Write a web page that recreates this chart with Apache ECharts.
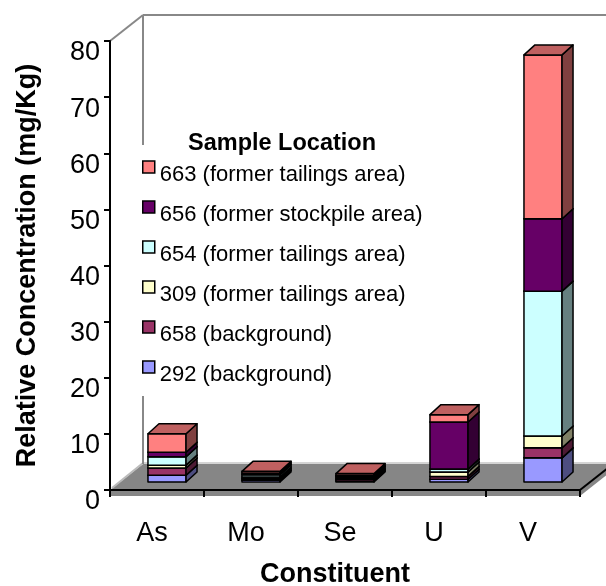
<!DOCTYPE html>
<html>
<head>
<meta charset="utf-8">
<script src="https://cdn.jsdelivr.net/npm/echarts@6/dist/echarts.min.js"></script>
<style>
    html, body { margin: 0; padding: 0; background: #fff; }
    #chart { width: 606px; height: 586px; }
</style>
</head>
<body>
<div id="chart"></div>
<script>
// 数据
var categories = ['As', 'Mo', 'Se', 'U', 'V'];
var s292 = [1.2, 0.3, 0.2, 0.5, 4.3];
var s658 = [1.3, 0.3, 0.3, 0.5, 1.8];
var s309 = [0.5, 0.3, 0.2, 0.8, 2.1];
var s654 = [1.5, 0.4, 0.3, 0.5, 25.8];
var s656 = [0.8, 0.3, 0.2, 8.4, 12.9];
var s663 = [3.3, 0.3, 0.3, 1.3, 29.2];
var yTicks = [0, 10, 20, 30, 40, 50, 60, 70, 80];

// 堆叠顺序（从下到上）
var stackNames = ['292 (background)', '658 (background)', '309 (former tailings area)',
    '654 (former tailings area)', '656 (former stockpile area)', '663 (former tailings area)'];
var stackValues = [s292, s658, s309, s654, s656, s663];
var colors = ['#9999FF', '#993366', '#FFFFCC', '#CCFFFF', '#660066', '#FF8080'];

var font = 'Liberation Sans, Arial, sans-serif';
var depth = [33, -26];      // 墙/地板的纵深
var front = [10, -8];       // 柱子前面相对轴的偏移
var barDepth = [11, -10];   // 柱子自身厚度

function shade(hex, k) {
    var r = parseInt(hex.substr(1, 2), 16), g = parseInt(hex.substr(3, 2), 16), b = parseInt(hex.substr(5, 2), 16);
    return 'rgb(' + Math.round(r * k) + ',' + Math.round(g * k) + ',' + Math.round(b * k) + ')';
}

var myChart = echarts.init(document.getElementById('chart'));

// 地板和墙
function renderFloor(params, api) {
    var band = api.size([1, 0])[0];
    var p0 = api.coord([0, yTicks[0]]);
    var pn = api.coord([categories.length - 1, yTicks[0]]);
    var pt = api.coord([0, yTicks[yTicks.length - 1]]);
    var xl = p0[0] - band / 2, xr = pn[0] + band / 2, yb = p0[1], yt = pt[1];
    var dx = depth[0], dy = depth[1];
    var wall = { stroke: '#888', lineWidth: 2 };
    return {
        type: 'group',
        children: [
            { type: 'polygon', shape: { points: [[xl, yb], [xl + dx, yb + dy], [xr + dx, yb + dy], [xr, yb]] },
              style: { fill: '#868686' } },
            { type: 'rect', shape: { x: xl, y: yb, width: xr - xl, height: 6 }, style: { fill: '#868686' } },
            { type: 'polygon', shape: { points: [[xr, yb], [xr + dx, yb + dy], [xr + dx, yb + dy + 6], [xr, yb + 6]] },
              style: { fill: '#868686' } },
            { type: 'line', shape: { x1: xr, y1: yb, x2: xr + dx, y2: yb + dy }, style: { stroke: '#000', lineWidth: 2 } },
            { type: 'line', shape: { x1: xl + 2, y1: yb - 2, x2: xl + dx, y2: yb + dy - 1 }, style: { stroke: '#bbb', lineWidth: 2 } },
            { type: 'line', shape: { x1: xl + dx, y1: yb + dy - 1, x2: xr + dx, y2: yb + dy - 1 }, style: { stroke: '#aaa', lineWidth: 1 } },
            { type: 'line', shape: { x1: xl, y1: yt, x2: xl + dx, y2: yt + dy }, style: wall },
            { type: 'line', shape: { x1: xl + dx, y1: yt + dy, x2: xl + dx, y2: yb + dy }, style: wall },
            { type: 'line', shape: { x1: xl + dx, y1: yt + dy, x2: xr + dx, y2: yt + dy }, style: wall }
        ]
    };
}

// 三维柱子
function makeRender(color) {
    return function (params, api) {
        var c = api.value(0), lo = api.value(1), hi = api.value(2);
        var band = api.size([1, 0])[0];
        var w = band * 0.405;
        var pl = api.coord([c, lo]), ph = api.coord([c, hi]);
        var x0 = pl[0] - w / 2 + front[0], x1 = x0 + w;
        var y0 = pl[1] + front[1], y1 = ph[1] + front[1];
        var bx = barDepth[0], by = barDepth[1];
        var edge = { stroke: '#000', lineWidth: 1.5, lineJoin: 'round' };
        return {
            type: 'group',
            children: [
                { type: 'polygon', shape: { points: [[x0, y0], [x1, y0], [x1, y1], [x0, y1]] },
                  style: echarts.util.extend({ fill: color }, edge) },
                { type: 'polygon', shape: { points: [[x1, y0], [x1, y1], [x1 + bx, y1 + by], [x1 + bx, y0 + by]] },
                  style: echarts.util.extend({ fill: shade(color, 0.5) }, edge) },
                { type: 'polygon', shape: { points: [[x0, y1], [x1, y1], [x1 + bx, y1 + by], [x0 + bx, y1 + by]] },
                  style: echarts.util.extend({ fill: shade(color, 0.75) }, edge) }
            ]
        };
    };
}

var series = [{
    type: 'custom',
    name: 'floor',
    z: 1,
    silent: true,
    renderItem: renderFloor,
    data: [[0, 0]]
}];

var base = categories.map(function () { return 0; });
for (var i = 0; i < stackValues.length; i++) {
    var d = [];
    for (var j = 0; j < categories.length; j++) {
        d.push([j, base[j], base[j] + stackValues[i][j]]);
        base[j] += stackValues[i][j];
    }
    series.push({
        type: 'custom',
        name: stackNames[i],
        z: 2,
        renderItem: makeRender(colors[i]),
        itemStyle: { color: colors[i] },
        encode: { x: 0, y: [1, 2] },
        data: d
    });
}

// 图例（从上到下）
var legendData = [];
for (var k = stackNames.length - 1; k >= 0; k--) {
    legendData.push({
        name: stackNames[k],
        icon: 'rect',
        itemStyle: { color: colors[k], borderColor: '#000', borderWidth: 1.5 }
    });
}

var option = {
    animation: false,
    backgroundColor: '#fff',
    title: {
        text: 'Sample Location',
        left: 183,
        top: 127,
        textStyle: { fontFamily: font, fontSize: 23.5, fontWeight: 'bold', color: '#000' }
    },
    legend: {
        orient: 'vertical',
        left: 137,
        top: 145,
        padding: [3, 10, 10, 5],
        backgroundColor: '#fff',
        itemWidth: 12,
        itemHeight: 12,
        itemGap: 2,
        selectedMode: false,
        data: legendData,
        formatter: function (name) {
            return '{t|' + name + '}';
        },
        textStyle: {
            fontFamily: font, fontSize: 22, color: '#000',
            rich: { t: { fontFamily: font, fontSize: 22, color: '#000', lineHeight: 24, padding: [16, 0, 0, 0] } }
        }
    },
    grid: {
        left: 110,
        right: 26,
        top: 41,
        bottom: 96,
        containLabel: false,
        outerBoundsMode: 'none'
    },
    xAxis: {
        type: 'category',
        data: categories,
        z: 3,
        name: 'Constituent',
        nameLocation: 'middle',
        nameGap: 71,
        nameTextStyle: { fontFamily: font, fontSize: 27, fontWeight: 'bold', color: '#000', padding: [0, 20, 0, 0] },
        axisLine: { lineStyle: { color: '#000', width: 2 } },
        axisTick: { show: true, length: 7, interval: 0, lineStyle: { color: '#000', width: 2 } },
        axisLabel: { fontFamily: font, fontSize: 27, color: '#000', margin: 30, padding: [0, 10, 0, 0] },
        splitLine: { show: false }
    },
    yAxis: {
        type: 'value',
        min: yTicks[0],
        max: yTicks[yTicks.length - 1],
        interval: 10,
        z: 3,
        name: 'Relative Concentration (mg/Kg)',
        nameLocation: 'middle',
        nameGap: 69,
        nameTextStyle: { fontFamily: font, fontSize: 27, fontWeight: 'bold', color: '#000' },
        axisLine: { show: true, lineStyle: { color: '#000', width: 2 } },
        axisTick: { show: true, length: 6, lineStyle: { color: '#000', width: 2 } },
        axisLabel: {
            fontFamily: font, fontSize: 27, color: '#000', margin: 10,
            formatter: function (v) { return '{v|' + v + '}'; },
            rich: { v: { fontFamily: font, fontSize: 27, color: '#000', lineHeight: 28, padding: [24, 0, 0, 0] } }
        },
        splitLine: { show: false }
    },
    series: series
};

myChart.setOption(option);
</script>
</body>
</html>
